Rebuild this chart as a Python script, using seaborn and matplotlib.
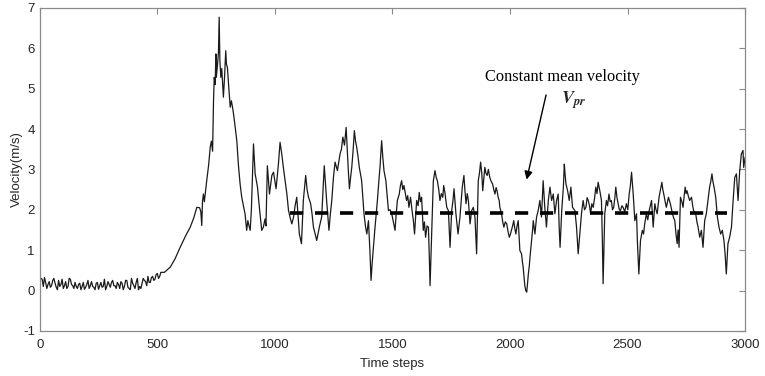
import pandas as pd
import matplotlib
matplotlib.use("Agg")
import matplotlib.pyplot as plt
import seaborn as sns

# velocity trace (time step, m/s)
# quiet start: read every 5 steps
start_steps = list(range(0, 525, 5))
start_velocity = [0.35, 0.30, 0.28, 0.10, 0.32, 0.20, 0.05, 0.15, 0.22, 0.08,
                  0.12, 0.25, 0.30, 0.18, 0.08, 0.02, 0.25, 0.10, 0.15, 0.28,
                  0.05, 0.12, 0.22, 0.05, 0.10, 0.30, 0.28, 0.15, 0.12, 0.05,
                  0.20, 0.10, 0.05, 0.15, 0.18, 0.02, 0.10, 0.20, 0.03, 0.08,
                  0.15, 0.25, 0.05, 0.12, 0.22, 0.10, 0.08, 0.02, 0.18, 0.20,
                  0.03, 0.12, 0.20, 0.08, 0.10, 0.28, 0.02, 0.10, 0.22, 0.15,
                  0.08, 0.20, 0.25, 0.12, 0.12, 0.05, 0.20, 0.15, 0.05, 0.22,
                  0.18, 0.02, 0.10, 0.25, 0.25, 0.08, 0.05, 0.02, 0.30, 0.18,
                  0.12, 0.05, 0.20, 0.30, 0.02, 0.10, 0.05, 0.18, 0.30, 0.25,
                  0.22, 0.12, 0.35, 0.20, 0.20, 0.32, 0.35, 0.25, 0.28, 0.40,
                  0.42, 0.30, 0.35, 0.45, 0.45]

# rest of the run: turning points
time_steps = [530, 555, 575, 597, 620, 640, 655, 668, 680, 685, 689, 692, 696, 700, 710, 718, 725, 730,
              735, 739, 742, 746, 749, 751, 756, 760, 763, 766, 770, 774, 781, 786, 791, 794, 798, 803,
              810, 815, 822, 828, 838, 845, 852, 859, 866, 873, 880, 885, 890, 895, 900, 909, 916, 926,
              934, 944, 951, 958, 962, 968, 977, 987, 994, 1005, 1015, 1022, 1029, 1036, 1044, 1051,
              1058, 1065, 1072, 1079, 1086, 1093, 1098, 1104, 1113, 1121, 1131, 1137, 1143, 1152, 1158,
              1164, 1171, 1178, 1189, 1199, 1205, 1210, 1220, 1230, 1236, 1242, 1249, 1256, 1266, 1277,
              1283, 1289, 1296, 1303, 1308, 1313, 1317, 1322, 1327, 1333, 1338, 1343, 1348, 1354, 1359,
              1369, 1374, 1379, 1385, 1391, 1398, 1404, 1409, 1414, 1419, 1426, 1431, 1436, 1442, 1447,
              1454, 1459, 1464, 1472, 1478, 1483, 1490, 1497, 1504, 1511, 1516, 1521, 1529, 1534, 1539,
              1544, 1549, 1555, 1560, 1565, 1570, 1577, 1583, 1589, 1594, 1603, 1609, 1614, 1619, 1624,
              1631, 1636, 1641, 1647, 1653, 1657, 1660, 1664, 1667, 1670, 1674, 1681, 1686, 1691, 1697,
              1702, 1708, 1714, 1718, 1723, 1731, 1738, 1745, 1752, 1757, 1762, 1770, 1779, 1787, 1792,
              1797, 1804, 1808, 1813, 1818, 1823, 1830, 1837, 1844, 1851, 1858, 1865, 1870, 1875, 1880,
              1884, 1889, 1893, 1898, 1903, 1908, 1914, 1920, 1926, 1931, 1936, 1941, 1945, 1950, 1954,
              1957, 1964, 1969, 1974, 1980, 1986, 1992, 1997, 2002, 2006, 2011, 2016, 2020, 2025, 2030,
              2035, 2039, 2042, 2049, 2053, 2056, 2060, 2063, 2067, 2071, 2075, 2078, 2082, 2085, 2092,
              2096, 2099, 2106, 2113, 2120, 2127, 2134, 2141, 2148, 2155, 2163, 2170, 2177, 2184, 2191,
              2198, 2205, 2209, 2213, 2217, 2220, 2227, 2231, 2234, 2238, 2245, 2252, 2259, 2266, 2276,
              2283, 2287, 2290, 2297, 2304, 2311, 2317, 2323, 2328, 2333, 2338, 2343, 2348, 2354, 2360,
              2365, 2370, 2375, 2382, 2389, 2393, 2396, 2400, 2403, 2410, 2415, 2421, 2426, 2431, 2436,
              2441, 2446, 2450, 2455, 2460, 2465, 2470, 2476, 2481, 2488, 2495, 2501, 2507, 2512, 2517,
              2521, 2524, 2531, 2538, 2542, 2548, 2552, 2555, 2563, 2568, 2573, 2580, 2586, 2592, 2597,
              2602, 2609, 2616, 2621, 2626, 2634, 2640, 2646, 2650, 2654, 2660, 2665, 2670, 2674, 2682,
              2691, 2696, 2701, 2706, 2711, 2715, 2719, 2725, 2731, 2736, 2740, 2745, 2749, 2753, 2758,
              2764, 2772, 2777, 2781, 2790, 2795, 2800, 2807, 2814, 2821, 2828, 2835, 2842, 2849, 2854,
              2859, 2863, 2868, 2875, 2882, 2889, 2896, 2903, 2910, 2915, 2920, 2927, 2934, 2942, 2949,
              2956, 2963, 2970, 2977, 2984, 2991, 2994, 3000]

velocity = [0.45, 0.58, 0.78, 1.07, 1.35, 1.57, 1.80, 2.06, 2.05, 1.95, 1.61, 2.20, 2.39, 2.20, 2.72,
            3.10, 3.55, 3.70, 3.45, 4.70, 5.28, 5.10, 5.86, 5.28, 5.60, 5.90, 6.77, 5.70, 5.28, 5.50,
            4.79, 5.30, 5.94, 5.60, 5.53, 5.10, 4.54, 4.70, 4.46, 4.20, 3.71, 3.10, 2.64, 2.31, 2.10,
            1.90, 1.49, 1.73, 1.60, 1.49, 2.00, 3.63, 2.89, 2.56, 2.06, 1.49, 1.57, 1.77, 1.60, 3.09,
            2.39, 2.85, 2.93, 2.52, 3.13, 3.67, 3.39, 3.05, 2.70, 2.39, 1.98, 1.80, 1.65, 1.81, 2.10,
            2.31, 1.90, 1.40, 1.16, 2.23, 2.85, 2.50, 2.31, 2.15, 1.90, 1.57, 1.40, 1.24, 1.57, 1.82,
            2.50, 3.09, 2.23, 1.49, 1.90, 2.23, 2.80, 3.18, 2.97, 3.38, 3.50, 3.80, 3.60, 4.04, 3.47,
            2.90, 2.52, 2.80, 3.05, 3.50, 3.96, 3.70, 3.55, 3.30, 3.05, 2.72, 2.30, 1.90, 1.60, 1.40,
            1.73, 1.00, 0.25, 0.70, 1.07, 1.57, 1.90, 2.23, 2.70, 3.05, 3.71, 3.30, 2.97, 2.72, 2.30,
            1.98, 2.00, 1.90, 1.70, 1.49, 1.90, 2.23, 2.39, 2.60, 2.72, 2.50, 2.60, 2.40, 2.23, 2.35,
            2.06, 2.31, 2.00, 1.73, 1.40, 2.23, 2.10, 2.43, 2.20, 2.31, 1.49, 1.70, 1.32, 1.60, 1.57,
            0.80, 0.12, 0.90, 1.40, 2.00, 2.72, 2.97, 2.80, 2.72, 2.50, 2.23, 2.40, 2.31, 2.60, 2.43,
            2.06, 1.98, 1.07, 1.98, 2.20, 2.52, 1.90, 1.40, 1.81, 2.20, 2.56, 2.85, 2.50, 2.15, 2.40,
            2.23, 1.65, 1.98, 2.06, 1.81, 0.91, 2.72, 2.90, 3.18, 2.90, 2.47, 2.80, 3.05, 2.90, 2.85,
            3.00, 2.80, 2.70, 2.64, 2.50, 2.39, 2.55, 2.47, 2.30, 2.23, 2.06, 1.90, 1.70, 1.57, 1.70,
            1.65, 1.45, 1.32, 1.40, 1.49, 1.60, 1.73, 1.55, 1.40, 1.60, 1.73, 1.30, 0.99, 0.91, 0.70,
            0.58, 0.30, 0.12, 0.00, -0.04, 0.20, 0.41, 0.60, 0.82, 1.24, 1.50, 1.73, 1.40, 1.82, 1.98,
            2.23, 1.82, 2.72, 2.06, 1.57, 2.23, 2.56, 2.23, 2.39, 1.90, 2.23, 2.39, 1.60, 1.07, 1.60,
            1.98, 2.56, 3.13, 2.90, 2.64, 2.47, 2.23, 2.56, 2.06, 1.98, 1.57, 1.20, 0.91, 1.40, 1.90,
            2.23, 2.00, 2.06, 2.30, 2.23, 2.10, 1.90, 2.15, 2.06, 2.30, 2.56, 2.40, 2.68, 2.47, 2.23,
            1.20, 0.17, 1.10, 1.90, 2.23, 2.10, 2.39, 2.20, 2.23, 2.00, 2.06, 2.30, 2.56, 2.30, 2.15,
            2.00, 1.98, 2.10, 2.06, 1.95, 2.15, 2.00, 2.39, 2.60, 2.93, 2.60, 2.39, 1.73, 1.90, 1.20,
            0.41, 0.90, 1.24, 1.49, 1.40, 1.65, 1.90, 1.75, 1.98, 2.10, 2.23, 1.57, 2.15, 2.00, 1.90,
            2.31, 2.50, 2.68, 2.50, 2.39, 2.20, 2.06, 2.20, 2.31, 2.15, 1.90, 1.80, 1.73, 1.40, 1.16,
            1.50, 1.07, 2.31, 2.20, 2.06, 2.30, 2.56, 2.40, 2.47, 2.35, 2.23, 2.31, 2.10, 1.98, 1.90,
            1.70, 1.57, 1.32, 1.49, 1.07, 1.73, 1.90, 2.23, 2.56, 2.70, 2.89, 2.70, 2.56, 2.31, 1.82,
            1.57, 1.40, 1.49, 1.24, 0.90, 0.41, 1.16, 1.32, 1.57, 2.23, 2.80, 2.89, 2.23, 2.97, 3.38,
            3.47, 3.05, 3.30]

# constant mean velocity segment
mean_velocity = 1.92
mean_start = 1065
mean_end = 2925

x_ticks = [0, 500, 1000, 1500, 2000, 2500, 3000]
y_ticks = [-1, 0, 1, 2, 3, 4, 5, 6, 7]

sns.set_style("white")
plt.rcParams['font.family'] = ['Liberation Sans', 'DejaVu Sans']
plt.rcParams['lines.scale_dashes'] = False
plt.rcParams['mathtext.fontset'] = 'stix'
plt.rcParams['axes.unicode_minus'] = False

df = pd.DataFrame({"step": start_steps + time_steps, "vel": start_velocity + velocity})
mean_df = pd.DataFrame({"step": [mean_start, mean_end], "vel": [mean_velocity, mean_velocity]})

fig = plt.figure(figsize=(7.65, 3.76), dpi=100)
ax = fig.add_axes([0.052, 0.12, 0.922, 0.859])

sns.lineplot(data=df, x="step", y="vel", ax=ax, color="#1a1a1a", lw=0.9,
             estimator=None, sort=False)
sns.lineplot(data=mean_df, x="step", y="vel", ax=ax, color="black", lw=2.6,
             dashes=False, linestyle=(0, (9.5, 8.5)))

ax.set_xlim(0, 3000)
ax.set_ylim(-1, 7)
ax.set_xticks(x_ticks)
ax.set_yticks(y_ticks)
ax.tick_params(direction="in", top=True, right=True, length=4, width=0.8,
               color="#8a8a8a", labelsize=9.5, labelcolor="#262626")
ax.tick_params(axis="x", pad=6)
for s in ax.spines.values():
    s.set_color("#8a8a8a")
    s.set_linewidth(0.9)

ax.set_xlabel("Time steps", fontsize=9.5, color="#262626", labelpad=5)
ax.set_ylabel("Velocity(m/s)", fontsize=9.5, color="#262626", labelpad=0)

# annotation
ax.annotate("", xy=(2068, 2.68), xytext=(2156, 4.91),
            arrowprops=dict(arrowstyle="-|>", color="black", lw=1.0, mutation_scale=12))
ax.text(2222, 5.3, "Constant mean velocity", ha="center", va="center",
        fontsize=11.8, family="Liberation Serif", color="black")
ax.text(2270, 4.72, r"$\mathbfit{V}_{\mathbfit{pr}}$", ha="center", va="center", fontsize=13)

fig.savefig("out.png", dpi=100)
